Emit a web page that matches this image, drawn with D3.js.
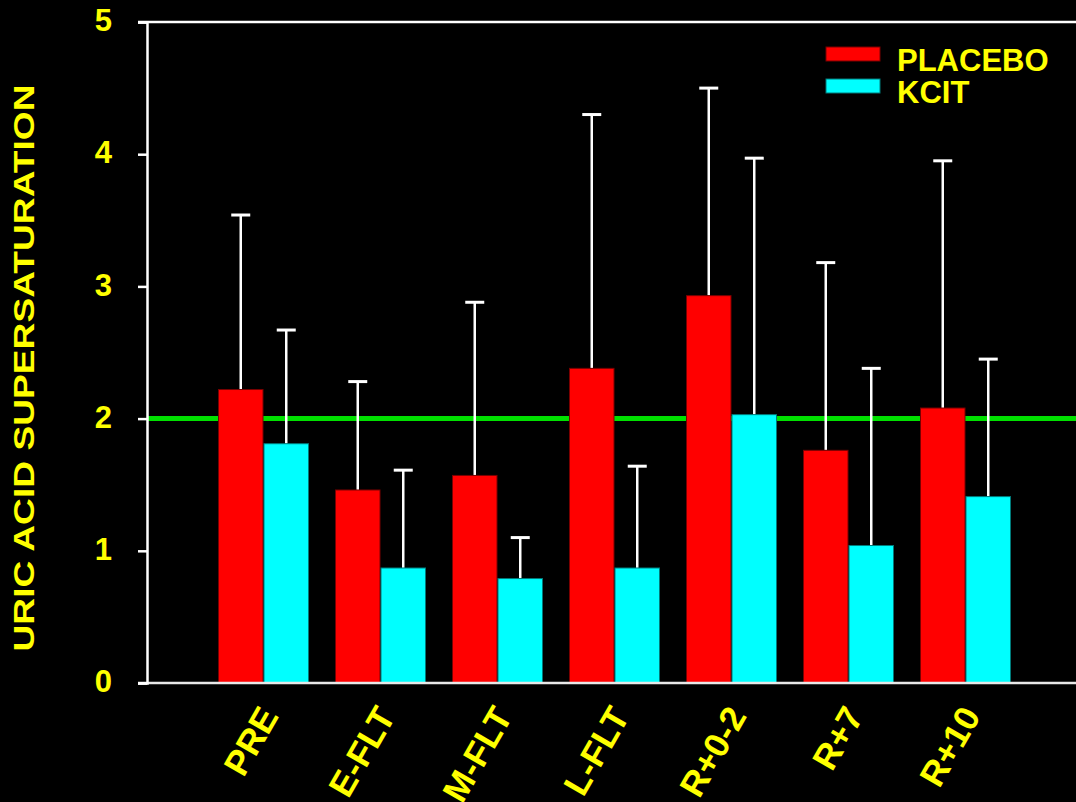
<!DOCTYPE html>
<html>
<head>
<meta charset="utf-8">
<script src="https://cdn.jsdelivr.net/npm/d3@7"></script>
<style>
  html, body { margin: 0; padding: 0; background: #000; }
  svg { display: block; }
  text { font-family: "Liberation Sans", Arial, sans-serif; font-weight: bold; fill: #ffff00; }
</style>
</head>
<body>
<svg id="chart" width="1076" height="802"></svg>
<script>
// Study phases along the x axis
const categories = ["PRE", "E-FLT", "M-FLT", "L-FLT", "R+0-2", "R+7", "R+10"];
const seriesNames = ["PLACEBO", "KCIT"];
// Mean uric acid supersaturation per phase
const placeboMean = [2.22, 1.46, 1.57, 2.38, 2.93, 1.76, 2.08];
const kcitMean    = [1.81, 0.87, 0.79, 0.87, 2.03, 1.04, 1.41];
// Upper error bar (standard deviation) per phase
const placeboSD   = [1.32, 0.82, 1.31, 1.92, 1.57, 1.42, 1.87];
const kcitSD      = [0.86, 0.74, 0.31, 0.77, 1.94, 1.34, 1.04];
const yTicks = [0, 1, 2, 3, 4, 5];
const referenceLevel = 2;

const colors = { PLACEBO: "#ff0000", KCIT: "#00ffff" };
const edges  = { PLACEBO: "#7a0000", KCIT: "#007a7a" };

const svg = d3.select("#chart");
const W = 1076;
const axisX = 147;

const y = d3.scaleLinear().domain([0, 5]).range([683, 22]);
const x = d3.scaleBand().domain(categories).range([205, 1024]).padding(0);
const xs = d3.scaleBand().domain(seriesNames).range([13, 104]).padding(0);

const rows = categories.map((c, i) => ({
  cat: c,
  values: [
    { s: "PLACEBO", mean: placeboMean[i], sd: placeboSD[i] },
    { s: "KCIT", mean: kcitMean[i], sd: kcitSD[i] }
  ]
}));

// Reference line at supersaturation = 2
svg.append("line")
  .attr("x1", axisX).attr("x2", W)
  .attr("y1", y(referenceLevel)).attr("y2", y(referenceLevel))
  .attr("stroke", "#00e000").attr("stroke-width", 5);

// Top border line
svg.append("line")
  .attr("x1", 138).attr("x2", W)
  .attr("y1", y(5)).attr("y2", y(5))
  .attr("stroke", "#ffffff").attr("stroke-width", 2.5);

// Bars and error bars
const groups = svg.append("g").selectAll("g")
  .data(rows).join("g")
  .attr("transform", d => `translate(${x(d.cat)},0)`);

groups.selectAll("line.err")
  .data(d => d.values).join("line")
  .attr("class", "err")
  .attr("x1", d => xs(d.s) + xs.bandwidth() / 2)
  .attr("x2", d => xs(d.s) + xs.bandwidth() / 2)
  .attr("y1", d => y(d.mean))
  .attr("y2", d => y(d.mean + d.sd))
  .attr("stroke", "#ffffff").attr("stroke-width", 2.5);

groups.selectAll("line.cap")
  .data(d => d.values).join("line")
  .attr("class", "cap")
  .attr("x1", d => xs(d.s) + xs.bandwidth() / 2 - 9.5)
  .attr("x2", d => xs(d.s) + xs.bandwidth() / 2 + 9.5)
  .attr("y1", d => y(d.mean + d.sd))
  .attr("y2", d => y(d.mean + d.sd))
  .attr("stroke", "#ffffff").attr("stroke-width", 3);

groups.selectAll("rect")
  .data(d => d.values).join("rect")
  .attr("x", d => xs(d.s) + 0.5)
  .attr("width", xs.bandwidth() - 1)
  .attr("y", d => y(d.mean))
  .attr("height", d => y(0) - y(d.mean))
  .attr("fill", d => colors[d.s])
  .attr("stroke", d => edges[d.s]).attr("stroke-width", 1);

// Bottom axis line
svg.append("line")
  .attr("x1", 138).attr("x2", W)
  .attr("y1", y(0)).attr("y2", y(0))
  .attr("stroke", "#e8e8e8").attr("stroke-width", 2.5);

// Y axis
const yAxis = svg.append("g")
  .attr("transform", `translate(${axisX},0)`)
  .call(d3.axisLeft(y).tickValues(yTicks).tickSize(9).tickPadding(26).tickFormat(d3.format("d")));
yAxis.select(".domain").attr("stroke", "#ffffff").attr("stroke-width", 2.5);
yAxis.selectAll(".tick line").attr("stroke", "#ffffff").attr("stroke-width", 2.5);
yAxis.selectAll(".tick text")
  .attr("fill", "#ffff00")
  .attr("font-size", 31)
  .attr("font-family", "Liberation Sans, Arial, sans-serif")
  .attr("font-weight", "bold")
  .attr("dy", "0.28em");

// Y axis title
svg.append("text")
  .attr("transform", "translate(34,368) rotate(-90)")
  .attr("text-anchor", "middle")
  .attr("font-size", 29)
  .attr("textLength", 567)
  .attr("lengthAdjust", "spacingAndGlyphs")
  .text("URIC ACID SUPERSATURATION");

// Rotated category labels
svg.append("g").selectAll("text")
  .data(categories).join("text")
  .attr("transform", d => `translate(${x(d) + x.bandwidth() / 2 + 16},716) rotate(-60)`)
  .attr("text-anchor", "end")
  .attr("font-size", 35)
  .text(d => d);

// Legend
const legend = svg.append("g").selectAll("g")
  .data(seriesNames).join("g")
  .attr("transform", (d, i) => `translate(826,${47 + i * 32})`);
legend.append("rect")
  .attr("width", 54).attr("height", 14)
  .attr("fill", d => colors[d])
  .attr("stroke", d => edges[d]).attr("stroke-width", 1);
legend.append("text")
  .attr("x", 71).attr("y", 24)
  .attr("font-size", 31)
  .text(d => d);
</script>
</body>
</html>
